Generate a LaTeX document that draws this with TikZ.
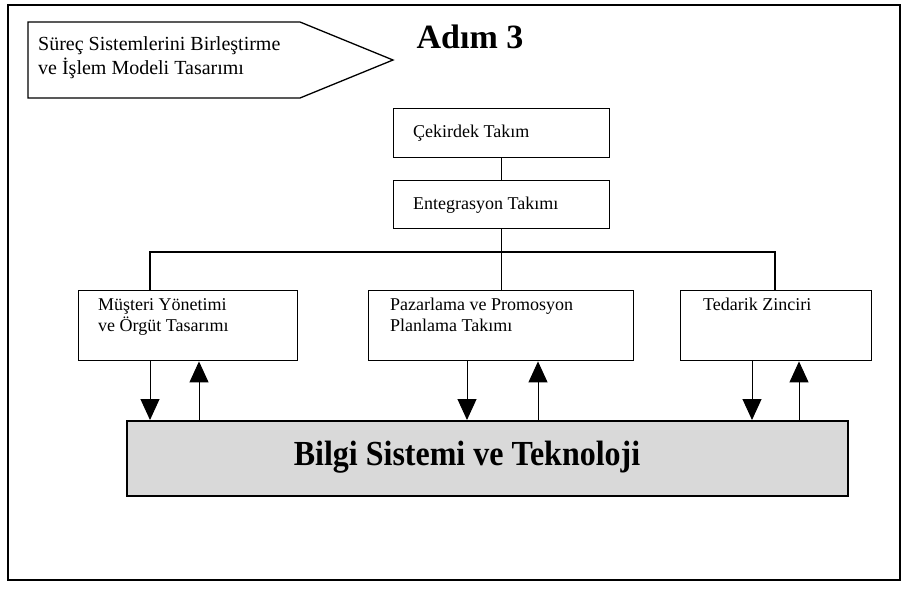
\documentclass[tikz,border=0pt]{standalone}
\usepackage{fontspec}
\setmainfont{Liberation Serif}
\usetikzlibrary{arrows.meta,calc}
\begin{document}
\begin{tikzpicture}[x=1pt,y=-1pt,
  frameline/.style={line width=1.2pt},
  box/.style={draw,line width=1.4pt,minimum width=#1,anchor=north west,inner sep=0pt},
  boxtext/.style={anchor=west,inner sep=0pt,font=\fontsize{18}{21}\selectfont,align=left},
  conn/.style={line width=1.2pt},
  arr/.style={line width=1pt,-{Triangle[length=21pt,width=19pt]}},
  bartext/.style={font=\bfseries\fontsize{32}{36}\selectfont,inner sep=0pt,yscale=1.1}]
\useasboundingbox (0,0) rectangle (909,592);
% outer frame
\draw[frameline] (8,5) rectangle (900,580);
% pentagon arrow
\draw[line width=1.3pt] (28,22) coordinate (pa) -- (300,22) -- (393,60) coordinate (ptip) -- (300,98) -- (28,98) -- cycle;
\node[boxtext,anchor=north west,font=\fontsize{20}{24}\selectfont] (ptext) at (38,36) {Süreç Sistemlerini Birleştirme\\ve İşlem Modeli Tasarımı};
% title
\node[font=\bfseries\fontsize{34}{38}\selectfont,inner sep=0pt] (title) at (470,37) {Adım 3};
% top boxes
\node[box=216pt,minimum height=49pt] (cek) at (393,108) {};
\node[boxtext] (cekt) at ([xshift=20pt]cek.west) {Çekirdek Takım};
\node[box=216pt,minimum height=48pt] (ent) at (393,180) {};
\node[boxtext] (entt) at ([xshift=20pt]ent.west) {Entegrasyon Takımı};
\draw[conn] (cek.south) -- (ent.north);
% lower boxes
\node[box=219pt,minimum height=70pt] (mus) at (78,290) {};
\node[boxtext,anchor=north west] (must) at (98,298) {Müşteri Yönetimi\\ve Örgüt Tasarımı};
\node[box=265pt,minimum height=70pt] (paz) at (368,290) {};
\node[boxtext,anchor=north west] (pazt) at (390,298) {Pazarlama ve Promosyon\\Planlama Takımı};
\node[box=191pt,minimum height=70pt] (ted) at (680,290) {};
\node[boxtext,anchor=north west] (tedt) at (703,298) {Tedarik Zinciri};
% bus
\coordinate (busl) at (150,252);
\coordinate (busr) at (775,252);
\draw[conn] (ent.south) -- (ent.south |- paz.north);
\draw[conn] (mus.north -| busl) -- (busl) -- (busr) -- (ted.north -| busr);
% bottom bar
\node[draw,line width=2pt,fill=black!15,minimum width=721pt,minimum height=75pt,anchor=north west,inner sep=0pt] (bar) at (126,420) {};
\node[bartext] (bart) at (467,457) {Bilgi Sistemi ve Teknoloji};
% arrows
\draw[arr] (mus.south -| 150,0) -- (bar.north -| 150,0);
\draw[arr] (bar.north -| 199,0) -- (mus.south -| 199,0);
\draw[arr] (paz.south -| 467,0) -- (bar.north -| 467,0);
\draw[arr] (bar.north -| 538,0) -- (paz.south -| 538,0);
\draw[arr] (ted.south -| 752,0) -- (bar.north -| 752,0);
\draw[arr] (bar.north -| 799,0) -- (ted.south -| 799,0);
\end{tikzpicture}
\end{document}
